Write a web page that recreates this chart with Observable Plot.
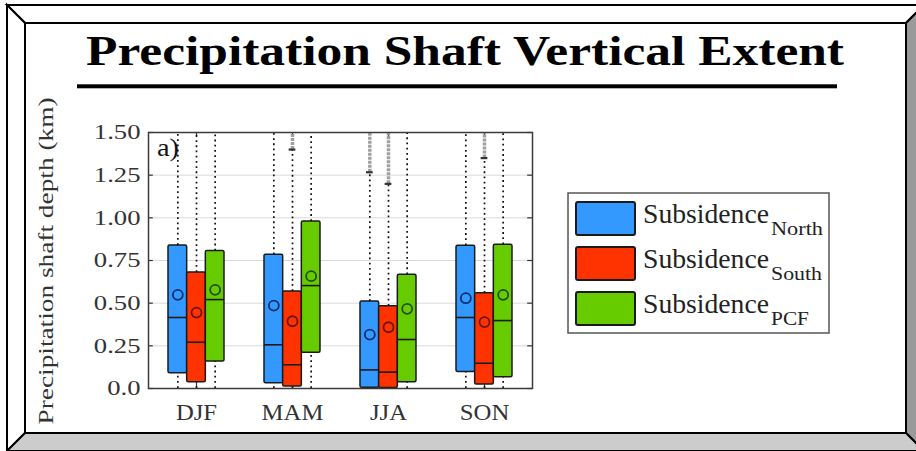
<!DOCTYPE html>
<html>
<head>
<meta charset="utf-8">
<script src="https://cdn.jsdelivr.net/npm/d3@7"></script>
<script src="https://cdn.jsdelivr.net/npm/@observablehq/plot@0.6"></script>
<style>
  html, body { margin: 0; padding: 0; background: #fff; }
  #wrap { position: relative; width: 916px; height: 451px; overflow: hidden; font-family: 'Liberation Serif', 'Times New Roman', serif; }
  #wrap svg { position: absolute; left: 0; top: 0; }
</style>
</head>
<body>
<div id="wrap"></div>
<script>
// ---------- data ----------
const seasons = ["DJF", "MAM", "JJA", "SON"];
const seriesNames = ["North", "South", "PCF"];
const seriesColors = ["#3399ff", "#ff3300", "#66cc00"];
const meanColors = ["#0d2f6e", "#6b1500", "#234f00"];
const yTickValues = [0, 0.25, 0.5, 0.75, 1.0, 1.25, 1.5];
const yTickLabels = ["0.0", "0.25", "0.50", "0.75", "1.00", "1.25", "1.50"];

// box statistics per series, in season order
const q3North = [0.838, 0.783, 0.510, 0.836];
const q1North = [0.090, 0.031, 0.005, 0.096];
const medNorth = [0.416, 0.256, 0.109, 0.416];
const meanNorth = [0.549, 0.486, 0.316, 0.529];
const whiskerHiNorth = [1.62, 1.62, 1.267, 1.62];
const whiskerLoNorth = [0, 0, 0, 0];
const outlierMaxNorth = [null, null, 1.62, null];

const q3South = [0.680, 0.568, 0.482, 0.558];
const q1South = [0.037, 0.012, 0.003, 0.023];
const medSouth = [0.271, 0.139, 0.096, 0.148];
const meanSouth = [0.445, 0.394, 0.359, 0.389];
const whiskerHiSouth = [1.62, 1.40, 1.199, 1.35];
const whiskerLoSouth = [0, 0, 0, 0];
const outlierMaxSouth = [null, 1.62, 1.62, 1.62];

const q3PCF = [0.805, 0.978, 0.666, 0.842];
const q1PCF = [0.158, 0.209, 0.037, 0.066];
const medPCF = [0.521, 0.603, 0.287, 0.398];
const meanPCF = [0.578, 0.658, 0.467, 0.549];
const whiskerHiPCF = [1.62, 1.62, 1.62, 1.62];
const whiskerLoPCF = [0, 0, 0, 0];
const outlierMaxPCF = [null, null, null, null];

const stats = [
  {q3: q3North, q1: q1North, med: medNorth, mean: meanNorth, whi: whiskerHiNorth, wlo: whiskerLoNorth, omax: outlierMaxNorth},
  {q3: q3South, q1: q1South, med: medSouth, mean: meanSouth, whi: whiskerHiSouth, wlo: whiskerLoSouth, omax: outlierMaxSouth},
  {q3: q3PCF, q1: q1PCF, med: medPCF, mean: meanPCF, whi: whiskerHiPCF, wlo: whiskerLoPCF, omax: outlierMaxPCF}
];

// ---------- table ----------
const groupWidth = 0.5833;
const boxW = groupWidth / 3;
const rows = [];
seriesNames.forEach((s, j) => {
  seasons.forEach((season, i) => {
    const x1 = i - groupWidth / 2 + j * boxW;
    const st = stats[j];
    rows.push({
      season, series: s, x1, x2: x1 + boxW, xc: x1 + boxW / 2,
      q1: st.q1[i], q3: st.q3[i], med: st.med[i], mean: st.mean[i],
      whi: st.whi[i], wlo: st.wlo[i], omax: st.omax[i],
      color: seriesColors[j], meanColor: meanColors[j]
    });
  });
});
const withOutliers = rows.filter(d => d.omax != null);

const wrap = document.getElementById("wrap");
const W = 916, H = 451;

// ---------- background bevel frame ----------
const bg = d3.select(wrap).append("svg").attr("width", W).attr("height", H);
const o = {l: 7, t: 5, r: 924, b: 451};
const inn = {l: 25, t: 23, r: 906, b: 433};
bg.append("rect").attr("x", 0).attr("y", 0).attr("width", W).attr("height", H).attr("fill", "#fff");
const poly = (pts, fill) => bg.append("polygon").attr("points", pts.map(p => p.join(",")).join(" "))
  .attr("fill", fill).attr("stroke", "#000").attr("stroke-width", 2).attr("stroke-linejoin", "miter");
poly([[o.l, o.t], [o.r, o.t], [inn.r, inn.t], [inn.l, inn.t]], "#ffffff");
poly([[o.l, o.t], [inn.l, inn.t], [inn.l, inn.b], [o.l, o.b]], "#ffffff");
poly([[inn.r, inn.t], [o.r, o.t], [o.r, o.b], [inn.r, inn.b]], "#9a9a9a");
poly([[inn.l, inn.b], [inn.r, inn.b], [o.r, o.b], [o.l, o.b]], "#cccccc");
bg.append("rect").attr("x", inn.l).attr("y", inn.t).attr("width", inn.r - inn.l).attr("height", inn.b - inn.t)
  .attr("fill", "#fff").attr("stroke", "#000").attr("stroke-width", 2);

// ---------- plot ----------
const chart = Plot.plot({
  width: W,
  height: H,
  marginLeft: 148,
  marginRight: W - 532,
  marginTop: 132,
  marginBottom: H - 388,
  style: {background: "transparent", fontFamily: "'Liberation Serif', 'Times New Roman', serif", color: "#333"},
  x: {domain: [-0.5, 3.5], axis: null},
  y: {domain: [0, 1.5], axis: null},
  color: {type: "identity"},
  marks: [
    Plot.gridY(yTickValues, {stroke: "#d9d9d9", strokeOpacity: 1, strokeWidth: 1}),
    // inner ticks
    Plot.ruleY(yTickValues, {x1: -0.5, x2: -0.45, stroke: "#333", strokeWidth: 1.2}),
    Plot.ruleY(yTickValues, {x1: 3.45, x2: 3.5, stroke: "#333", strokeWidth: 1.2}),
    Plot.ruleX(seasons.map((d, i) => i), {y1: 1.5, y2: 1.47, stroke: "#333", strokeWidth: 1.2}),
    Plot.ruleX(seasons.map((d, i) => i), {y1: 0, y2: 0.03, stroke: "#333", strokeWidth: 1.2}),
    // whiskers
    Plot.ruleX(rows, {x: "xc", y1: "q3", y2: "whi", stroke: "#111", strokeWidth: 1.7, strokeDasharray: "1.8,3.4", clip: true}),
    Plot.ruleX(rows, {x: "xc", y1: "wlo", y2: "q1", stroke: "#111", strokeWidth: 1.7, strokeDasharray: "1.8,3.4", clip: true}),
    // outliers
    Plot.ruleX(withOutliers, {x: "xc", y1: "whi", y2: "omax", stroke: "#a0a0a0", strokeWidth: 3.5, strokeDasharray: "3,1", clip: true}),
    Plot.ruleY(withOutliers, {y: "whi", x1: d => d.xc - 0.035, x2: d => d.xc + 0.035, stroke: "#333", strokeWidth: 2.2}),
    // boxes
    Plot.rect(rows, {x1: "x1", x2: "x2", y1: "q1", y2: "q3", fill: "color", stroke: "#1a1a1a", strokeWidth: 1.5, rx: 1.5}),
    Plot.ruleY(rows, {y: "med", x1: "x1", x2: "x2", stroke: "#1a1a1a", strokeWidth: 1.6}),
    Plot.dot(rows, {x: "xc", y: "mean", r: 5, stroke: "meanColor", strokeWidth: 1.8, fill: "none"}),
    Plot.frame({stroke: "#3a3a3a", strokeWidth: 1.5}),
    // axes
    Plot.axisY(yTickValues, {tickFormat: (d, i) => yTickLabels[i], tickSize: 0, tickPadding: 8, fontSize: 21, fill: "#333"}),
    Plot.axisX(seasons.map((d, i) => i), {tickFormat: i => seasons[i], tickSize: 0, tickPadding: 14, fontSize: 24, fill: "#333"})
  ]
});
chart.style.position = "absolute";
chart.style.left = "0px";
chart.style.top = "0px";
wrap.appendChild(chart);

function stretch(nodes, factor) {
  nodes.forEach(n => {
    const w = n.getComputedTextLength();
    n.setAttribute("textLength", (w * factor).toFixed(1));
    n.setAttribute("lengthAdjust", "spacingAndGlyphs");
  });
}
stretch(chart.querySelectorAll('g[aria-label="y-axis tick label"] text'), 1.27);
stretch(chart.querySelectorAll('g[aria-label="x-axis tick label"] text'), 1.03);

// ---------- overlay: title, labels, legend ----------
const ov = d3.select(wrap).append("svg").attr("width", W).attr("height", H).style("pointer-events", "none");
const serif = "'Liberation Serif', 'Times New Roman', serif";

ov.append("text").attr("x", 86).attr("y", 65).attr("font-family", serif).attr("font-weight", "bold")
  .attr("font-size", 42).attr("fill", "#000").attr("textLength", 758).attr("lengthAdjust", "spacingAndGlyphs")
  .text("Precipitation Shaft Vertical Extent");
ov.append("rect").attr("x", 77).attr("y", 84.3).attr("width", 760).attr("height", 4).attr("fill", "#000");

ov.append("text").attr("transform", "translate(53,261) rotate(-90)").attr("text-anchor", "middle")
  .attr("font-family", serif).attr("font-size", 22).attr("fill", "#333")
  .attr("textLength", 327).attr("lengthAdjust", "spacingAndGlyphs")
  .text("Precipitation shaft depth (km)");

ov.append("text").attr("x", 157).attr("y", 156).attr("font-family", serif).attr("font-size", 26)
  .attr("fill", "#111").attr("textLength", 22).attr("lengthAdjust", "spacingAndGlyphs").text("a)");

// legend
const lg = ov.append("g");
lg.append("rect").attr("x", 568).attr("y", 193).attr("width", 261).attr("height", 140)
  .attr("fill", "#fff").attr("stroke", "#555").attr("stroke-width", 1.5);
const subLens = [52, 51, 38];
seriesNames.forEach((s, j) => {
  const y0 = 202 + j * 45;
  lg.append("rect").attr("x", 576).attr("y", y0).attr("width", 59).attr("height", 33).attr("rx", 2)
    .attr("fill", seriesColors[j]).attr("stroke", "#1a1a1a").attr("stroke-width", 2);
  const t = lg.append("text").attr("x", 643).attr("y", 223.3 + j * 45).attr("font-family", serif)
    .attr("font-size", 27.5).attr("fill", "#222");
  t.append("tspan").attr("textLength", 126).attr("lengthAdjust", "spacingAndGlyphs").text("Subsidence");
  t.append("tspan").attr("x", 771).attr("dy", 11.7).attr("font-size", 18)
    .attr("textLength", subLens[j]).attr("lengthAdjust", "spacingAndGlyphs").text(s);
});
</script>
</body>
</html>
